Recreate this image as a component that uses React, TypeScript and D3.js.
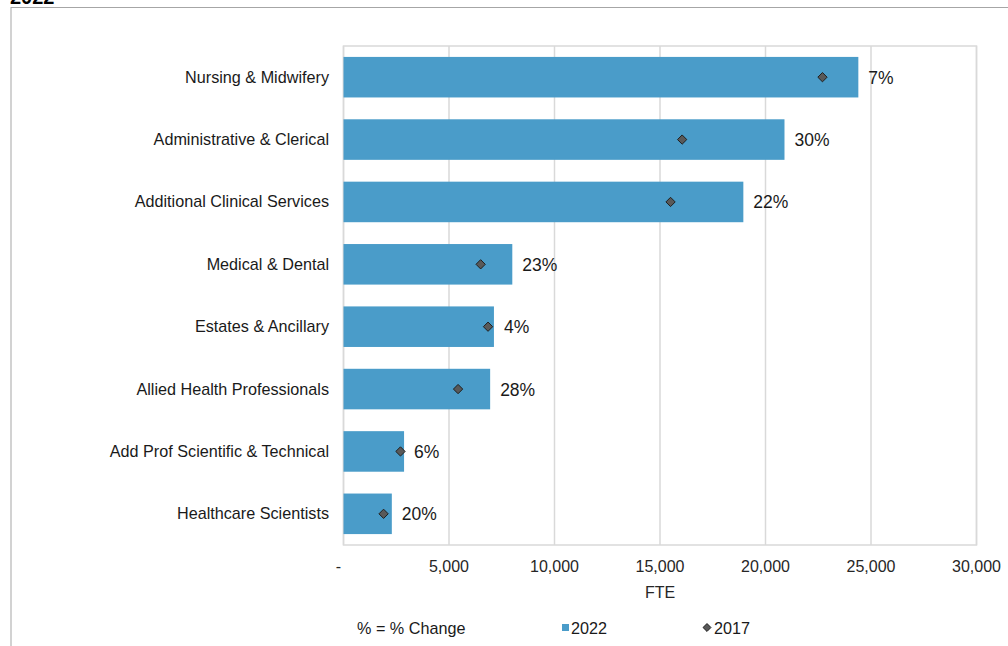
import React from "react";
import * as d3 from "d3";

const categories = [
  "Nursing & Midwifery",
  "Administrative & Clerical",
  "Additional Clinical Services",
  "Medical & Dental",
  "Estates & Ancillary",
  "Allied Health Professionals",
  "Add Prof Scientific & Technical",
  "Healthcare Scientists",
];
const values2022 = [24400, 20900, 18950, 8000, 7130, 6950, 2870, 2290];
const values2017 = [22700, 16050, 15500, 6500, 6850, 5430, 2700, 1900];
const changeLabels = ["7%", "30%", "22%", "23%", "4%", "28%", "6%", "20%"];
const xTicks = [0, 5000, 10000, 15000, 20000, 25000, 30000];

const W = 1008;
const H = 646;
const M = { left: 343.5, right: 976.5, top: 46, bottom: 545 };
const FONT = "'Liberation Sans', Arial, sans-serif";
const BAR = "#4a9cc9";

export default function App() {
  const x = d3.scaleLinear().domain([0, 30000]).range([M.left, M.right]);
  const y = d3
    .scaleBand<string>()
    .domain(categories)
    .range([M.top, M.bottom])
    .paddingInner(0.35)
    .paddingOuter(0.175);
  const fmt = (v: number) => (v === 0 ? "-" : d3.format(",")(v));
  const diamond = d3.symbol().type(d3.symbolDiamond2).size(55)()!;
  const legendDiamond = d3.symbol().type(d3.symbolDiamond2).size(40)()!;

  return (
    <svg
      width={W}
      height={H}
      style={{ position: "absolute", left: 0, top: 0, background: "#fff" }}
      fontFamily={FONT}
    >
      <text x={10} y={4} fontSize={20} fontWeight="bold" fill="#000">
        2022
      </text>
      <rect x={11} y={7.5} width={1010} height={660} fill="none" stroke="#a6a6a6" strokeWidth={1} />
      <rect
        x={M.left}
        y={M.top}
        width={M.right - M.left}
        height={M.bottom - M.top}
        fill="none"
        stroke="#d9d9d9"
        strokeWidth={1.5}
      />
      {xTicks.map((t) => (
        <line
          key={"g" + t}
          x1={x(t)}
          x2={x(t)}
          y1={M.top}
          y2={M.bottom}
          stroke="#d9d9d9"
          strokeWidth={1.5}
        />
      ))}
      {xTicks.map((t) => (
        <text
          key={"t" + t}
          x={t === 0 ? x(t) - 5 : x(t)}
          y={572}
          textAnchor="middle"
          fontSize={16}
          fill="#262626"
        >
          {fmt(t)}
        </text>
      ))}
      <text x={660} y={598} textAnchor="middle" fontSize={16} fill="#262626">
        FTE
      </text>
      {categories.map((c, i) => {
        const yy = y(c)!;
        const bw = y.bandwidth();
        const cy = yy + bw / 2;
        return (
          <g key={c}>
            <rect x={x(0)} y={yy} width={x(values2022[i]) - x(0)} height={bw} fill={BAR} />
            <path
              d={diamond}
              transform={`translate(${x(values2017[i])},${cy})`}
              fill="#595959"
              stroke="#1f1f1f"
              strokeWidth={1}
            />
            <text
              x={x(values2022[i]) + 10}
              y={cy + 6.5}
              fontSize={17.5}
              fill="#1a1a1a"
            >
              {changeLabels[i]}
            </text>
            <text x={329} y={cy + 5.5} textAnchor="end" fontSize={16.2} fill="#1a1a1a">
              {c}
            </text>
          </g>
        );
      })}
      <text x={357} y={634} fontSize={16.2} fill="#1a1a1a">
        % = % Change
      </text>
      <rect x={562} y={624} width={7} height={7} fill={BAR} />
      <text x={571} y={634} fontSize={16.2} fill="#1a1a1a">
        2022
      </text>
      <path
        d={legendDiamond}
        transform={`translate(707,627.5)`}
        fill="#595959"
        stroke="#1f1f1f"
        strokeWidth={1}
      />
      <text x={714} y={634} fontSize={16.2} fill="#1a1a1a">
        2017
      </text>
    </svg>
  );
}
